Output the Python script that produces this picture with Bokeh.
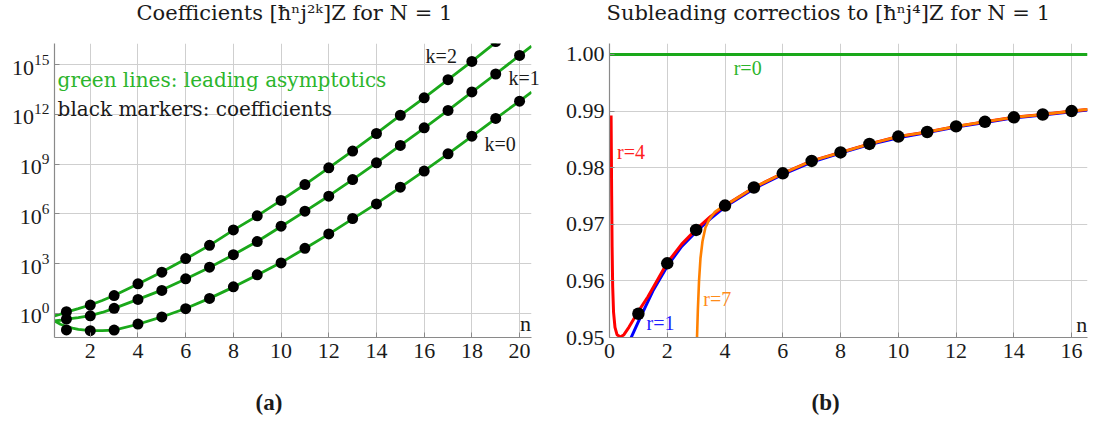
from bokeh.plotting import figure
from bokeh.layouts import row
from bokeh.models import (FixedTicker, LogTickFormatter, Label, Range1d,
                          PrintfTickFormatter, Title, LogAxis, CustomJSTickFormatter)
from bokeh.embed import file_html
from bokeh.resources import INLINE

SERIF = "Liberation Serif"
PROSE = "DejaVu Serif"
FS = "22px"

# ---------------- panel (a): coefficients [hbar^n j^2k] Z ----------------
n_coef = list(range(1, 21))
log10_coef_k0 = [-1.00, -1.05, -1.01, -0.65, -0.22, 0.28, 0.90, 1.60, 2.32, 3.04,
                 3.92, 4.79, 5.72, 6.60, 7.61, 8.58, 9.62, 10.69, 11.76, 12.80]
log10_coef_k1 = [-0.35, -0.15, 0.30, 0.84, 1.38, 2.08, 2.78, 3.54, 4.33, 5.26,
                 6.16, 7.07, 8.07, 9.08, 10.13, 11.19, 12.24, 13.36, 14.44, 15.56]
n_coef_k2 = list(range(1, 20))
log10_coef_k2 = [0.10, 0.50, 1.07, 1.78, 2.48, 3.30, 4.10, 5.03, 5.88, 6.81,
                 7.77, 8.78, 9.79, 10.85, 11.95, 13.00, 14.10, 15.20, 16.40]

# leading asymptotics
n_asym = [0.5, 0.75, 1, 1.25, 1.5, 2, 2.5, 3, 4, 5, 6, 7, 8, 9, 10, 11, 12,
          13, 14, 15, 16, 17, 18, 19, 20, 20.5]
log10_asym_k0 = [-0.46, -0.66, -0.80, -0.90, -0.97, -1.04, -1.05, -1.01, -0.66,
                 -0.22, 0.29, 0.90, 1.58, 2.31, 3.06, 3.91, 4.78, 5.70, 6.62,
                 7.60, 8.59, 9.62, 10.67, 11.74, 12.81, 13.35]
log10_asym_k1 = [-0.46, -0.42, -0.36, -0.31, -0.26, -0.14, 0.05, 0.30, 0.84,
                 1.40, 2.07, 2.77, 3.53, 4.33, 5.24, 6.15, 7.08, 8.07, 9.08,
                 10.13, 11.18, 12.24, 13.34, 14.44, 15.56, 16.12]
log10_asym_k2 = [-0.16, -0.05, 0.07, 0.18, 0.28, 0.50, 0.77, 1.07, 1.77, 2.49,
                 3.28, 4.10, 5.02, 5.88, 6.81, 7.77, 8.78, 9.80, 10.86, 11.94,
                 13.00, 14.10, 15.20, 16.35, 17.45, 18.00]

xticks_a = [2, 4, 6, 8, 10, 12, 14, 16, 18, 20]
yticks_a = [1e0, 1e3, 1e6, 1e9, 1e12, 1e15]

# ---------------- panel (b): subleading corrections ----------------
n_ratio = list(range(1, 17))
ratio = [0.9542, 0.9631, 0.9690, 0.9733, 0.9765, 0.9790, 0.9812, 0.9827,
         0.9842, 0.9855, 0.9863, 0.9873, 0.9881, 0.9889, 0.9894, 0.9900]

n_r0 = [0.0, 16.55]
r0 = [1.0, 1.0]
n_r1 = [0.75, 1, 1.5, 2, 2.5, 3, 3.5, 4, 5, 6, 7, 8, 9, 10, 11, 12, 13, 14,
        15, 16, 16.55]
r1 = [0.9500, 0.9528, 0.9582, 0.9626, 0.9661, 0.9687, 0.9710, 0.9731, 0.9763,
      0.9788, 0.9810, 0.9826, 0.9841, 0.9853, 0.9862, 0.9872, 0.9880, 0.9888,
      0.9893, 0.9899, 0.9902]
n_r4 = [0.055, 0.065, 0.075, 0.09, 0.11, 0.14, 0.19, 0.26, 0.38, 0.5, 0.67,
        0.96, 1.33, 2, 2.5, 3, 3.5, 4, 5, 6, 7, 8, 9, 10, 11, 12, 13, 14, 15,
        16, 16.55]
r4 = [0.9892, 0.9820, 0.9750, 0.9660, 0.9590, 0.9545, 0.9518, 0.9505, 0.9501,
      0.9505, 0.9518, 0.9543, 0.9572, 0.9632, 0.9665, 0.9691, 0.9714, 0.9733,
      0.9765, 0.9790, 0.9812, 0.9827, 0.9842, 0.9855, 0.9863, 0.9873, 0.9881,
      0.9889, 0.9894, 0.9900, 0.9903]
n_r7 = [3.03, 3.06, 3.10, 3.15, 3.22, 3.32, 3.45, 3.65, 3.85, 4, 5, 6, 7, 8,
        9, 10, 11, 12, 13, 14, 15, 16, 16.55]
r7 = [0.9500, 0.9550, 0.9600, 0.9640, 0.9670, 0.9694, 0.9708, 0.9722, 0.9729,
      0.9733, 0.9765, 0.9790, 0.9812, 0.9827, 0.9842, 0.9855, 0.9863, 0.9873,
      0.9881, 0.9889, 0.9894, 0.9900, 0.9903]

xticks_b = [0, 2, 4, 6, 8, 10, 12, 14, 16]
yticks_b = [0.95, 0.96, 0.97, 0.98, 0.99, 1.00]

GREEN = "#1aa81a"
GREEN_TXT = "#2cb52c"
INK = "#1a1a1a"


def style_axes(p):
    for ax in (p.xaxis, p.yaxis):
        ax.axis_line_color = "#8a8a8a"
        ax.axis_line_width = 1.2
        ax.major_tick_in = 5
        ax.major_tick_out = 0
        ax.major_tick_line_color = "#8a8a8a"
        ax.minor_tick_line_color = None
        ax.major_label_text_font = SERIF
        ax.major_label_text_font_size = FS
        ax.major_label_text_color = INK
    p.xaxis.major_label_standoff = 6
    p.yaxis.major_label_standoff = 5
    p.grid.grid_line_color = "#cfcfcf"
    p.grid.grid_line_width = 1
    p.outline_line_color = None
    p.background_fill_color = "white"
    p.border_fill_color = "white"


def label(p, x, y, text, color=INK, align="left", size=FS, font=SERIF):
    p.add_layout(Label(x=x, y=y, text=text, text_font=font, text_font_size=size,
                       text_color=color, text_align=align, text_baseline="middle"))


def spacer(p, side, gap):
    p.add_layout(Title(text=" ", text_font_size="1px", standoff=gap), side)


def titles(p, top_text, top_offset, bottom_text, bottom_offset):
    # heading above the frame, panel tag below the x axis
    spacer(p, "above", 14)
    p.add_layout(Title(text=top_text, align="left", offset=top_offset,
                       vertical_align="top", standoff=0,
                       text_font=PROSE, text_font_size="21px",
                       text_font_style="normal", text_color=INK), "above")
    spacer(p, "below", 26)
    p.add_layout(Title(text=bottom_text, align="left", offset=bottom_offset,
                       vertical_align="top", standoff=0, text_font=SERIF,
                       text_font_size="23px", text_font_style="bold",
                       text_color=INK), "below")


# ---- figure (a)
pa = figure(width=550, height=428, y_axis_type="log",
            x_range=Range1d(0.5, 20.5), y_range=Range1d(10 ** -1.46, 10 ** 16.28),
            output_backend="svg", toolbar_location=None,
            min_border_left=54, min_border_right=19, min_border_top=42,
            min_border_bottom=91)
style_axes(pa)
pa.xaxis.ticker = FixedTicker(ticks=xticks_a)
pa.yaxis.ticker = FixedTicker(ticks=yticks_a)
pa.yaxis.formatter = LogTickFormatter()

for ys in (log10_asym_k0, log10_asym_k1, log10_asym_k2):
    pa.line(n_asym, [10 ** v for v in ys], line_color=GREEN, line_width=2.8)
for xs, ys in ((n_coef, log10_coef_k0), (n_coef, log10_coef_k1),
               (n_coef_k2, log10_coef_k2)):
    pa.scatter(xs, [10 ** v for v in ys], size=11, fill_color="black",
               line_color=None)

titles(pa, "Coefficients [ħⁿj²ᵏ]Z for N = 1", 82, "(a)", 201)
label(pa, 0.63, 10 ** 14.1, "green lines: leading asymptotics", color=GREEN_TXT,
      font=PROSE, size="20px")
label(pa, 0.63, 10 ** 12.3, "black markers: coefficients", font=PROSE, size="20px")
label(pa, 16.06, 10 ** 15.5, "k=2", size="20px")
label(pa, 18.53, 10 ** 10.2, "k=0", size="20px")
label(pa, 20.48, 10 ** -0.6, "n", align="right")

# the k=1 tag sits across the right edge of the frame, so it is carried by a
# bare axis on that side
k1_axis = LogAxis(ticker=FixedTicker(ticks=[10 ** 14.17]),
                  formatter=CustomJSTickFormatter(code="return 'k=1'"),
                  axis_line_color=None, major_tick_line_color=None,
                  minor_tick_line_color=None, major_tick_in=0, major_tick_out=0,
                  major_label_standoff=-23, major_label_text_font=SERIF,
                  major_label_text_font_size="20px", major_label_text_color=INK)
pa.add_layout(k1_axis, "right")

# ---- figure (b)
pb = figure(width=549, height=428,
            x_range=Range1d(0, 16.55), y_range=Range1d(0.95, 1.00194),
            output_backend="svg", toolbar_location=None,
            min_border_left=59, min_border_right=12, min_border_top=42,
            min_border_bottom=91)
style_axes(pb)
pb.xaxis.ticker = FixedTicker(ticks=xticks_b)
pb.yaxis.ticker = FixedTicker(ticks=yticks_b)
pb.yaxis.formatter = PrintfTickFormatter(format="%.2f")

pb.line(n_r0, r0, line_color=GREEN, line_width=3)
pb.line(n_r1, r1, line_color="#0000ff", line_width=3)
pb.line(n_r4, r4, line_color="#ff0000", line_width=3)
pb.line(n_r7, r7, line_color="#ff8000", line_width=2.6)
pb.scatter(n_ratio, ratio, size=12.5, fill_color="black", line_color=None)

titles(pb, "Subleading correctios to [ħⁿj⁴]Z for N = 1", -3, "(b)", 202)
label(pb, 4.3, 0.9976, "r=0", color=GREEN_TXT, size="20px")
label(pb, 0.26, 0.9828, "r=4", color="#ff2020", size="20px")
label(pb, 1.28, 0.95265, "r=1", color="#2020ff", size="20px")
label(pb, 3.25, 0.95688, "r=7", color="#ff8c1a", size="20px")
label(pb, 16.54, 0.95236, "n", align="right")

layout = row(pa, pb)
open("out.html", "w").write(file_html(layout, INLINE))
